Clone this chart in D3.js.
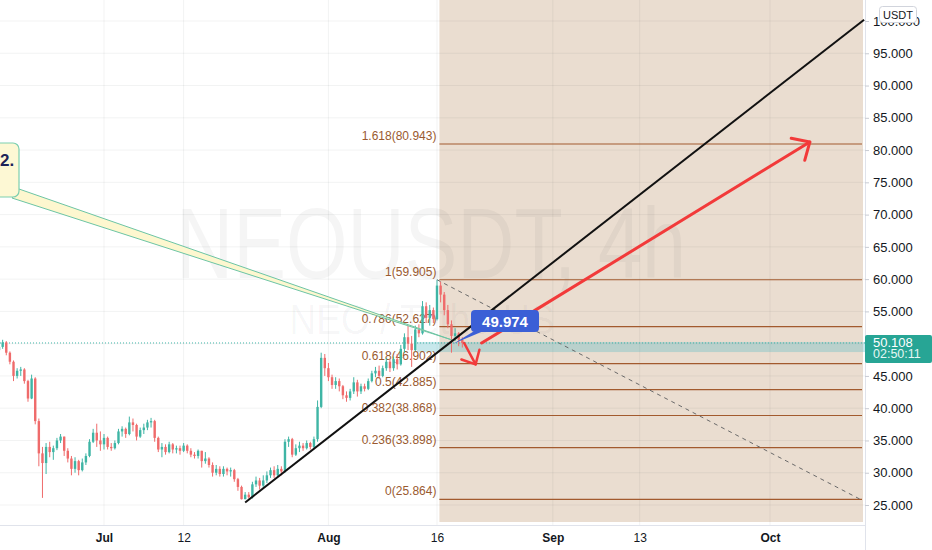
<!DOCTYPE html>
<html><head><meta charset="utf-8">
<script src="https://cdn.jsdelivr.net/npm/d3@7"></script>
<style>html,body{margin:0;padding:0;background:#fff;}svg{display:block;font-family:"Liberation Sans",Arial,sans-serif;}</style>
</head><body><svg id="c" width="932" height="550"></svg>
<script>
// ---------- data ----------
const candleStart = "2021-06-16T12:00:00Z";
const candleStepHours = 12;
const firstOpen = 49.0;
const closes = [
 49.5,50.2,48.6,47.2,45.0,45.8,46.0,44.2,41.5,44.6,
 38.0,33.0,31.5,34.0,33.2,33.8,35.0,35.6,33.4,32.2,
 30.6,31.8,30.4,31.6,32.6,34.8,36.2,35.0,34.4,35.4,
 34.0,33.8,34.6,36.4,36.8,36.0,37.8,37.4,35.6,36.6,
 37.0,37.8,38.0,35.4,33.6,34.0,33.2,34.4,33.6,33.8,
 33.4,34.2,33.4,32.8,32.6,33.4,31.8,32.2,31.2,30.0,
 30.6,29.8,30.6,30.2,30.4,29.0,27.8,25.9,26.6,26.2,
 28.2,28.8,28.0,28.8,29.6,30.4,29.6,30.6,30.2,34.8,
 35.2,32.8,33.8,34.2,33.8,34.6,34.0,35.2,40.2,47.8,
 46.2,44.8,43.6,44.2,43.4,42.0,41.6,42.6,44.0,42.6,
 43.4,43.0,44.2,45.4,45.8,45.0,46.2,47.2,46.2,47.6,
 46.8,49.2,51.0,50.0,49.0,52.2,51.6,55.8,54.0,55.2,
 53.8,59.0,57.6,55.2,53.0,51.2,51.6,50.6,50.1];
const highs = [
 50.2,50.6,50.4,48.8,47.4,46.2,46.4,46.2,44.4,45.2,
 44.8,38.4,34.0,34.6,34.8,34.2,35.4,36.0,35.6,33.8,
 32.6,32.4,32.0,32.2,33.0,35.2,36.8,37.6,36.4,36.0,
 35.6,34.6,35.0,36.8,37.2,37.0,38.7,38.4,37.6,37.0,
 37.6,38.2,38.5,38.2,35.6,34.6,34.4,34.8,34.6,34.2,
 34.2,34.6,34.4,33.8,33.2,33.6,33.4,33.2,32.4,31.6,
 31.2,31.0,31.0,30.8,30.8,30.6,29.2,28.0,27.0,27.0,
 28.6,29.4,29.2,29.6,30.2,30.8,31.0,31.2,31.0,35.2,
 35.6,35.4,34.4,34.8,34.6,35.0,34.8,35.6,41.2,48.6,
 48.4,47.0,45.2,44.8,44.6,43.6,42.6,43.0,44.8,44.4,
 43.8,43.8,44.6,45.8,46.4,46.6,46.6,47.8,47.6,48.0,
 48.4,49.8,51.6,52.8,51.2,52.8,53.0,56.6,56.4,56.0,
 55.6,59.905,59.6,58.0,56.0,53.6,52.4,51.8,51.0];
const lows = [
 48.5,49.2,48.2,46.8,44.2,44.6,45.0,43.8,41.0,41.4,
 37.5,31.0,26.1,29.8,32.4,32.0,33.5,34.6,32.6,31.6,
 29.6,30.0,29.6,30.2,31.2,32.4,34.6,34.0,33.4,33.6,
 33.6,33.4,33.6,34.4,35.6,35.4,35.8,36.4,35.0,35.4,
 36.0,36.6,37.0,34.8,33.2,32.4,32.8,33.0,33.0,33.0,
 32.8,33.2,33.0,32.4,32.2,32.2,30.8,31.4,30.8,29.4,
 29.6,29.4,29.4,29.6,29.4,28.6,27.2,25.864,25.9,26.0,
 26.0,27.8,27.4,27.6,28.4,29.2,29.2,29.4,29.6,30.0,
 34.0,32.4,32.6,33.2,33.4,33.6,33.6,33.8,34.8,40.0,
 45.0,44.2,43.0,43.0,42.6,41.4,41.0,41.2,42.2,41.8,
 42.2,42.6,42.8,44.0,44.8,44.6,44.8,45.8,45.6,45.8,
 46.0,46.6,48.6,49.0,46.4,48.8,51.0,51.4,53.2,52.8,
 53.2,53.6,56.4,54.4,52.4,48.6,50.4,49.6,49.4];

const fibRatios = ["1.618","1","0.786","0.618","0.5","0.382","0.236","0"];
const fibPrices = [80.943,59.905,52.627,46.902,42.885,38.868,33.898,25.864];
const fibStartTime = "2021-08-16T08:00:00Z";

const yTicks = [25,30,35,40,45,50,55,60,65,70,75,80,85,90,95,100];
const xTickDates = ["2021-07-01","2021-07-12","2021-08-01","2021-08-16","2021-09-01","2021-09-13","2021-10-01"];
const xTickLabels = ["Jul","12","Aug","16","Sep","13","Oct"];
const xTickBold = [true,false,true,false,true,false,true];

const lastPrice = 50.108;
const countdown = "02:50:11";
const trendLine = [["2021-07-20T12:00:00Z",25.4],["2021-10-14T00:00:00Z",100.2]];
const fibDiag = [["2021-08-16T00:00:00Z",59.905],["2021-10-13T12:00:00Z",25.864]];
const upArrow = [["2021-08-22T04:00:00Z",50.1],["2021-10-06T12:00:00Z",81.25]];
const downArrow = [["2021-08-19T18:00:00Z",50.1],["2021-08-21T08:00:00Z",46.8]];
const zoneBand = {t0:"2021-08-13T06:00:00Z", p0:48.7, p1:50.26};
const priceBubble = {t:"2021-08-18T06:00:00Z", p:49.974, text:"49.974"};
const calloutTip = ["2021-08-18T00:00:00Z",50.6];
const calloutText = "2.";
const watermark = ["NEOUSDT, 4h","NEO / TetherUS"];

// ---------- scales ----------
const W=932,H=550, plotR=865, plotB=525;
const svg=d3.select("#c");
const x=d3.scaleUtc().domain([new Date("2021-07-01T00:00:00Z"),new Date("2021-10-01T00:00:00Z")]).range([104,770]);
const y=d3.scaleLinear().domain([25,100]).range([505,21]);
const T=s=>new Date(s);
const startMs=T(candleStart).getTime();
const candles=closes.map((c,i)=>({t:new Date(startMs+i*candleStepHours*3600e3),o:i?closes[i-1]:firstOpen,c,h:highs[i],l:lows[i]}));

svg.append("rect").attr("width",W).attr("height",H).attr("fill","#fff");
const defs=svg.append("defs");
defs.append("clipPath").attr("id","plot").append("rect").attr("x",0).attr("y",0).attr("width",plotR).attr("height",plotB);
const g=svg.append("g").attr("clip-path","url(#plot)");

// tan shaded area
const fx0=x(T(fibStartTime));
g.append("rect").attr("x",fx0).attr("y",0).attr("width",plotR-2-fx0).attr("height",plotB-3).attr("fill","#eaddd0");

// grid
g.selectAll(".gy").data(yTicks).join("line").attr("x1",0).attr("x2",plotR).attr("y1",d=>y(d)).attr("y2",d=>y(d)).attr("stroke","rgba(42,46,57,0.06)");
g.selectAll(".gx").data(xTickDates).join("line").attr("x1",d=>x(T(d))).attr("x2",d=>x(T(d))).attr("y1",0).attr("y2",plotB).attr("stroke","rgba(42,46,57,0.06)");

// watermark
g.append("text").text(watermark[0]).attr("x",431).attr("y",278).attr("text-anchor","middle").attr("font-size",100)
 .attr("textLength",510).attr("lengthAdjust","spacingAndGlyphs").attr("fill","rgba(19,23,34,0.045)");
g.append("text").text(watermark[1]).attr("x",422).attr("y",334).attr("text-anchor","middle").attr("font-size",42)
 .attr("textLength",265).attr("lengthAdjust","spacingAndGlyphs").attr("fill","rgba(19,23,34,0.045)");

// teal zone band
g.append("rect").attr("x",x(T(zoneBand.t0))).attr("y",y(zoneBand.p1)).attr("width",plotR-x(T(zoneBand.t0))).attr("height",y(zoneBand.p0)-y(zoneBand.p1))
 .attr("fill","rgba(80,185,195,0.32)");

// fib lines + labels
g.selectAll(".fl").data(fibPrices).join("line").attr("x1",fx0).attr("x2",plotR-3).attr("y1",d=>y(d)).attr("y2",d=>y(d))
 .attr("stroke","#a25a2e").attr("stroke-width",1.2);
g.selectAll(".ft").data(fibPrices).join("text").attr("x",fx0-3).attr("y",d=>y(d)-4).attr("text-anchor","end")
 .attr("font-size",12).attr("fill","#9a5a30").text((d,i)=>fibRatios[i]+"("+d3.format(".3f")(d)+")");

// fib diagonal dashed
g.append("line").attr("x1",x(T(fibDiag[0][0]))).attr("y1",y(fibDiag[0][1])).attr("x2",x(T(fibDiag[1][0]))).attr("y2",y(fibDiag[1][1]))
 .attr("stroke","#6a6a6a").attr("stroke-width",1).attr("stroke-dasharray","4,4");

// last price dotted line
g.append("line").attr("x1",0).attr("x2",plotR).attr("y1",y(lastPrice)).attr("y2",y(lastPrice)).attr("stroke","#3fb3a6").attr("stroke-width",1).attr("stroke-dasharray","1,2");

// candles
const bw=2.4;
const cg=g.append("g");
candles.forEach(d=>{
  const up=d.c>=d.o, col=up?"#3fb5a5":"#ef6b6b";
  const cx=x(d.t);
  cg.append("line").attr("x1",cx).attr("x2",cx).attr("y1",y(Math.max(d.h,d.o,d.c))).attr("y2",y(Math.min(d.l,d.o,d.c))).attr("stroke",col).attr("stroke-width",1);
  const yt=y(Math.max(d.o,d.c)), yb=y(Math.min(d.o,d.c));
  cg.append("rect").attr("x",cx-bw/2).attr("y",yt).attr("width",bw).attr("height",Math.max(1,yb-yt)).attr("fill",col);
});

// callout tail + box
const tipX=x(T(calloutTip[0])), tipY=y(calloutTip[1]);
g.append("path").attr("d",`M19,189 L${tipX},${tipY} L12,198 Z`).attr("fill","#fdf7cf").attr("stroke","#6cc4a4").attr("stroke-width",1);
g.append("rect").attr("x",-20).attr("y",143).attr("width",39).attr("height",54).attr("rx",6).attr("fill","#fdf8d4").attr("stroke","#7ccfb0").attr("stroke-width",1.2);
g.append("text").attr("x",0).attr("y",166).attr("font-size",17).attr("font-weight","bold").attr("fill","#1d2358").text(calloutText);

// black trend line
g.append("line").attr("x1",x(T(trendLine[0][0]))).attr("y1",y(trendLine[0][1])).attr("x2",x(T(trendLine[1][0]))).attr("y2",y(trendLine[1][1]))
 .attr("stroke","#111").attr("stroke-width",2);

// arrows
function arrow(pts,w,head){
  const x1=x(T(pts[0][0])),y1=y(pts[0][1]),x2=x(T(pts[1][0])),y2=y(pts[1][1]);
  const a=Math.atan2(y1-y2,x1-x2);
  const p=[[x2+head*Math.cos(a+0.75),y2+head*Math.sin(a+0.75)],[x2+head*Math.cos(a-0.75),y2+head*Math.sin(a-0.75)]];
  g.append("line").attr("x1",x1).attr("y1",y1).attr("x2",x2).attr("y2",y2).attr("stroke","#f23a3a").attr("stroke-width",w).attr("stroke-linecap","round");
  g.append("path").attr("d",`M${p[0][0]},${p[0][1]} L${x2},${y2} L${p[1][0]},${p[1][1]}`).attr("fill","none").attr("stroke","#f23a3a").attr("stroke-width",w).attr("stroke-linecap","round").attr("stroke-linejoin","round");
}
arrow(upArrow,3,19);
arrow(downArrow,2.5,15);

// blue price bubble
const bx=x(T(priceBubble.t)), by=y(priceBubble.p);
g.append("path").attr("d",`M${bx},${by} L476,330 L486,330 Z`).attr("fill","#3b5fd6");
g.append("rect").attr("x",471).attr("y",310).attr("width",68).attr("height",22).attr("rx",4).attr("fill","#3b5fd6");
g.append("text").attr("x",505).attr("y",326.5).attr("text-anchor","middle").attr("font-size",15).attr("font-weight","bold").attr("fill","#fff").text(priceBubble.text);

// ---------- axes ----------
svg.append("line").attr("x1",plotR+0.5).attr("x2",plotR+0.5).attr("y1",0).attr("y2",H).attr("stroke","#e0e3eb");
svg.append("line").attr("x1",0).attr("x2",plotR).attr("y1",plotB+0.5).attr("y2",plotB+0.5).attr("stroke","#e0e3eb");

const ya=svg.append("g").attr("transform",`translate(${plotR},0)`)
 .call(d3.axisRight(y).tickValues(yTicks).tickFormat(d3.format(".3f")).tickSize(4).tickPadding(4));
ya.select(".domain").remove();
ya.selectAll("line").attr("stroke","#c8cbd3");
ya.selectAll("text").attr("font-size",13).attr("fill","#131722").attr("font-family","Liberation Sans, Arial, sans-serif");

const xa=svg.append("g").attr("transform",`translate(0,${plotB})`)
 .call(d3.axisBottom(x).tickValues(xTickDates.map(T)).tickFormat((d,i)=>xTickLabels[i]).tickSize(0).tickPadding(8));
xa.select(".domain").remove();
xa.selectAll("text").attr("font-size",12).attr("fill","#131722").attr("font-family","Liberation Sans, Arial, sans-serif")
 .attr("font-weight",(d,i)=>xTickBold[i]?"bold":"normal");

// last price label
const ly=y(lastPrice);
svg.append("rect").attr("x",plotR).attr("y",ly-8).attr("width",W-plotR).attr("height",28).attr("fill","#27a595").attr("rx",2);
svg.append("text").attr("x",873).attr("y",ly+4.5).attr("font-size",13).attr("fill","#fff").text(d3.format(".3f")(lastPrice));
svg.append("text").attr("x",873).attr("y",ly+15.5).attr("font-size",12.5).attr("fill","#e6f7f4").text(countdown);

// currency tag
svg.append("rect").attr("x",879.5).attr("y",6.5).attr("width",37).attr("height",16).attr("rx",3).attr("fill","#fff").attr("stroke","#d1d4dc");
svg.append("text").attr("x",898).attr("y",18.5).attr("text-anchor","middle").attr("font-size",11).attr("fill","#131722").text("USDT");
</script></body></html>
